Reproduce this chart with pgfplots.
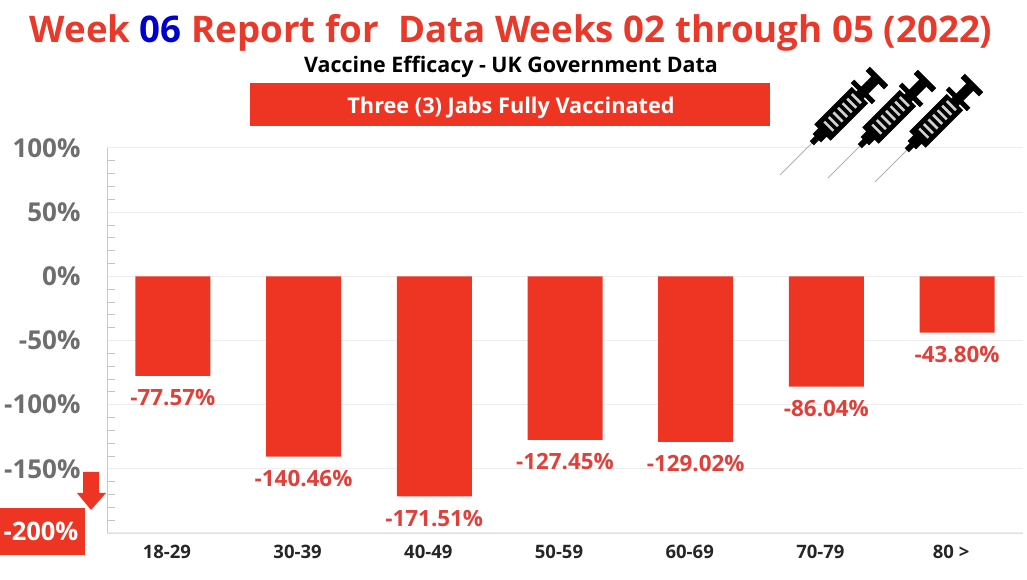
\documentclass[border=0pt]{standalone}
\usepackage{fontspec}
\setmainfont{Open Sans}
\usepackage{pgfplots}
\pgfplotsset{compat=1.18}
\definecolor{barred}{HTML}{EE3524}
\definecolor{titlered}{HTML}{E8392A}
\definecolor{labred}{HTML}{E0403A}
\definecolor{ticklab}{HTML}{6E6E6E}
\definecolor{axlav}{HTML}{C4C6DC}
\definecolor{gridc}{HTML}{EDEDED}
\newcommand{\syringe}[2]{%
  \begin{scope}[shift={(#1,#2)},rotate=45]
    \draw[gray!60,line width=1pt] (0,0) -- (46,0);
    \fill[black] (45,-3) -- (52,-3) -- (52,-6) -- (60,-6) -- (60,-11.5) -- (113,-11.5)
      -- (113,-5) -- (115,-5) -- (115,-15) -- (120,-15) -- (120,-5) -- (134,-5)
      -- (134,-13) -- (140,-13) -- (140,13) -- (134,13) -- (134,5) -- (120,5)
      -- (120,15) -- (115,15) -- (115,5) -- (113,5) -- (113,11.5) -- (60,11.5)
      -- (60,6) -- (52,6) -- (52,3) -- (45,3) -- cycle;
    \foreach \s in {69,75.5,82,88.5,95,101.5,108}
      \fill[black!18] (\s-1.3,-6.5) rectangle (\s+1.3,6.5);
  \end{scope}}
\begin{document}
\begin{tikzpicture}[x=1pt,y=1pt]
\path (0,0) rectangle (1027,580);
\begin{axis}[
  at={(107.5pt,47pt)}, anchor=south west,
  scale only axis, width=915pt, height=385pt,
  xmin=-0.5, xmax=6.5, ymin=-200, ymax=100,
  axis line style={gridc},
  axis x line*=bottom, axis y line*=left,
  y axis line style={axlav,line width=1pt},
  x axis line style={axlav!60},
  xtick=data,
  xticklabels={18-29,30-39,40-49,50-59,60-69,70-79,80 >},
  x tick label style={font=\fontsize{18.5}{20}\selectfont\bfseries,text=black!85,xshift=-6pt,yshift=-1pt},
  x tick style={draw=none},
  ytick={-200,-150,-100,-50,0,50,100},
  yticklabels={,-150\%,-100\%,-50\%,0\%,50\%,100\%},
  y tick label style={font=\fontsize{26}{28}\selectfont\bfseries,text=ticklab,xshift=-23.5pt},
  /pgf/number format/assume math mode=true,
  minor y tick num=4,
  ytick style={draw=none},
  minor y tick style={draw=gray!45,line width=0.7pt},
  tickwidth=8pt, subtickwidth=7pt, tick align=inside,
  ymajorgrids, grid style={gridc,line width=1pt},
  ybar, bar width=75pt,
  nodes near coords,
  point meta=explicit symbolic,
  nodes near coords align={below},
  every node near coord/.append style={font=\fontsize{22.4}{25}\selectfont\bfseries,text=labred,yshift=-10pt},
]
\addplot[fill=barred,draw=none] coordinates {
  (0,-77.57) [-77.57\%]
  (1,-140.46) [-140.46\%]
  (2,-171.51) [-171.51\%]
  (3,-127.45) [-127.45\%]
  (4,-129.02) [-129.02\%]
  (5,-86.04) [-86.04\%]
  (6,-43.80) [-43.80\%]
};
\end{axis}
% title block
\node[text=titlered,font=\fontsize{36.7}{40}\selectfont\bfseries] at (511,547)
  {Week \textcolor{blue!80!black}{06} Report for\ \ Data Weeks 02 through 05 (2022)};
\node[text=black,font=\fontsize{21.4}{24}\selectfont\bfseries] at (511,513)
  {Vaccine Efficacy - UK Government Data};
\fill[barred] (250,454) rectangle (770,497);
\node[text=white,font=\fontsize{21.7}{24}\selectfont\bfseries] at (511,472)
  {Three (3) Jabs Fully Vaccinated};
% syringes
\syringe{780}{405}
\syringe{828}{402}
\syringe{875}{398}
% -200% box and arrow
\fill[barred] (0,25) rectangle (85,72);
\node[text=white,font=\fontsize{25.5}{28}\selectfont\bfseries] at (41,49) {-200\%};
\fill[barred] (83,108) -- (99,108) -- (99,87) -- (106,87) -- (91,70) -- (77,87) -- (83,87) -- cycle;
\end{tikzpicture}
\end{document}
